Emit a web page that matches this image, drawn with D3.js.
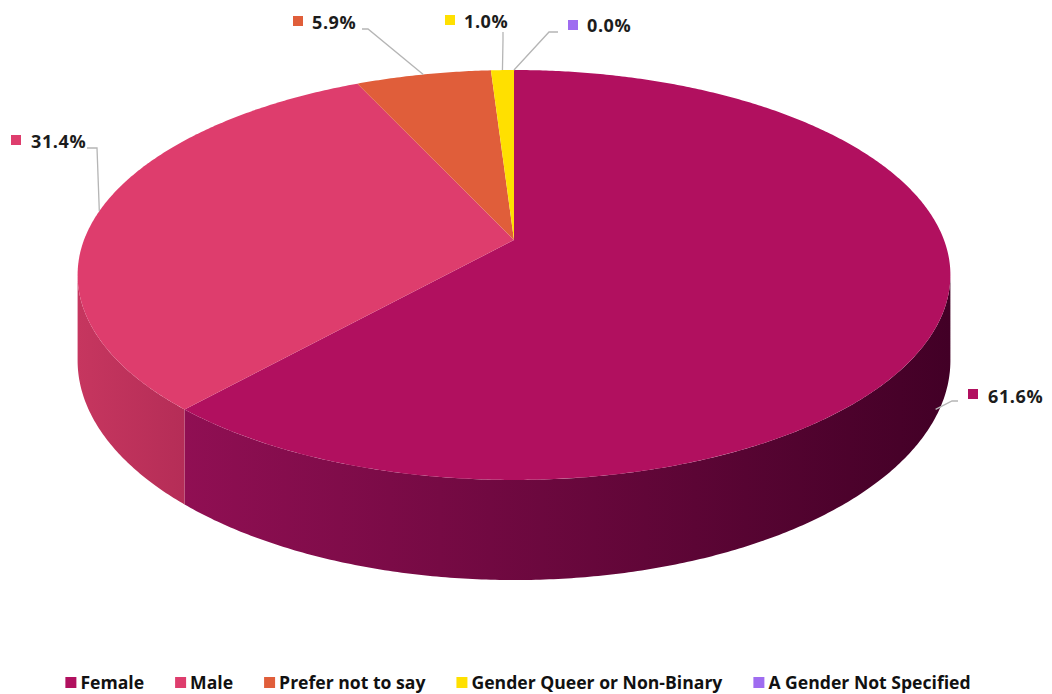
<!DOCTYPE html>
<html>
<head>
<meta charset="utf-8">
<script src="https://cdn.jsdelivr.net/npm/d3@7"></script>
<style>
  body { margin: 0; background: #fff; }
  svg { display: block; }
</style>
</head>
<body>
<div id="chart"></div>
<script>
// data
var categories = ["Female", "Male", "Prefer not to say", "Gender Queer or Non-Binary", "A Gender Not Specified"];
var values = [61.6, 31.4, 5.9, 1.0, 0.0];
var labels = ["61.6%", "31.4%", "5.9%", "1.0%", "0.0%"];

var colors = ["#B1105F", "#DE3D6D", "#E05E3A", "#FFE000", "#9F6CF0"];
// side wall gradients (left, right)
var sideColors = [["#900f53", "#420026"], ["#c6365f", "#b52d57"], ["#c44e2e", "#b04628"], ["#d9bf00", "#c9b000"], ["#8a5bd6", "#7a4fc4"]];

var width = 1052, height = 694;

// pseudo-perspective geometry
var cx = 514, ay = 240, R = 430, S = 199, K = 0.1707, D = 83;

function proj(theta, z) {
  var u = Math.sin(theta), v = Math.cos(theta), d = 1 + K * v;
  return [cx + R * u / d, ay - S * v / d + z * D / d];
}

var svg = d3.select("#chart").append("svg")
    .attr("width", width)
    .attr("height", height)
    .style("font-family", "'Open Sans', sans-serif");

var defs = svg.append("defs");

var pie = d3.pie().sort(null).value(function (d) { return d; });
var arcs = pie(values);

function arcPoints(a0, a1, z) {
  var pts = [];
  var n = Math.max(2, Math.ceil((a1 - a0) / (Math.PI / 360)));
  for (var i = 0; i <= n; i++) {
    pts.push(proj(a0 + (a1 - a0) * i / n, z));
  }
  return pts;
}

var line = d3.line();

// front-facing range of the outer wall
var thR = Math.acos(-K), thL = 2 * Math.PI - thR;

// side walls
arcs.forEach(function (a, i) {
  var s = Math.max(a.startAngle, thR), e = Math.min(a.endAngle, thL);
  if (e <= s) return;
  var top = arcPoints(s, e, 0);
  var bot = arcPoints(s, e, 1).reverse();
  var xs = top.map(function (p) { return p[0]; });
  var gid = "side" + i;
  var g = defs.append("linearGradient")
      .attr("id", gid)
      .attr("gradientUnits", "userSpaceOnUse")
      .attr("x1", d3.min(xs)).attr("x2", d3.max(xs))
      .attr("y1", 0).attr("y2", 0);
  g.append("stop").attr("offset", 0).attr("stop-color", sideColors[i][0]);
  g.append("stop").attr("offset", 1).attr("stop-color", sideColors[i][1]);
  svg.append("path")
      .attr("d", line(top.concat(bot)) + "Z")
      .attr("fill", "url(#" + gid + ")");
});

// top faces
arcs.forEach(function (a, i) {
  if (a.endAngle - a.startAngle <= 0) return;
  var pts = [[cx, ay]].concat(arcPoints(a.startAngle, a.endAngle, 0));
  svg.append("path")
      .attr("d", line(pts) + "Z")
      .attr("fill", colors[i]);
});

// data labels: elbow and text positions
var labelLayout = [
  { z: 1, elbow: [952, 401], end: [958, 401], sq: [968, 389], tx: 988, ty: 403 },
  { z: 0, elbow: [97, 148], end: [87, 148], sq: [11, 135], tx: 31, ty: 148 },
  { z: 0, elbow: [368, 29], end: [362, 29], sq: [293, 16], tx: 312, ty: 29 },
  { z: 0, elbow: [503, 40], end: [503, 32], sq: [445, 15], tx: 464, ty: 28 },
  { z: 0, elbow: [549, 32], end: [558, 32], sq: [568, 20], tx: 587, ty: 32 }
];

arcs.forEach(function (a, i) {
  var L = labelLayout[i];
  var mid = (a.startAngle + a.endAngle) / 2;
  var p0 = proj(mid, L.z);
  if (L.z === 1) { p0 = [p0[0] - 6, p0[1] + 5]; }
  svg.append("path")
      .attr("d", line([p0, L.elbow, L.end]))
      .attr("fill", "none")
      .attr("stroke", "#b5b5b5")
      .attr("stroke-width", 1.3);
  svg.append("rect")
      .attr("x", L.sq[0]).attr("y", L.sq[1])
      .attr("width", 10).attr("height", 10)
      .attr("fill", colors[i]);
  svg.append("text")
      .attr("x", L.tx).attr("y", L.ty)
      .attr("font-size", 18)
      .attr("font-weight", 700)
      .attr("letter-spacing", 0.6)
      .attr("fill", "#1c1c1c")
      .text(labels[i]);
});

// legend
var legend = svg.append("g").attr("class", "legend");
var items = legend.selectAll("g")
    .data(categories)
    .enter().append("g");

items.append("rect")
    .attr("y", 677)
    .attr("width", 11)
    .attr("height", 11)
    .attr("fill", function (d, i) { return colors[i]; });

items.append("text")
    .attr("x", 15)
    .attr("y", 689)
    .attr("font-size", 17.6)
    .attr("font-weight", 700)
    .attr("fill", "#111")
    .text(function (d) { return d; });

var widthsL = [];
items.each(function () {
  widthsL.push(d3.select(this).select("text").node().getComputedTextLength() + 15);
});
var gap = 31;
var total = d3.sum(widthsL) + gap * (widthsL.length - 1);
var xpos = 518 - total / 2;
items.attr("transform", function (d, i) {
  var x = xpos;
  xpos += widthsL[i] + gap;
  return "translate(" + x + ",0)";
});
</script>
</body>
</html>
